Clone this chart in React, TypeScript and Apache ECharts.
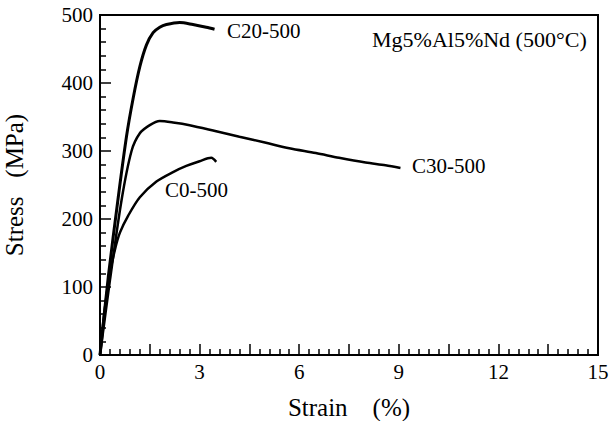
import React, { useEffect, useRef } from "react";
import * as echarts from "echarts";

const c20X = [0, 0.25, 0.55, 0.8, 1.0, 1.2, 1.4, 1.6, 1.8, 2.0, 2.4, 2.8, 3.2, 3.45];
const c20Y = [0, 115, 232, 322, 378, 424, 456, 474, 482, 486, 489, 486, 482, 479];

const c30X = [0, 0.3, 0.65, 0.95, 1.2, 1.5, 1.8, 2.2, 2.7, 3.5, 4.2, 5.0, 5.7, 6.5, 7.2, 8.0, 8.6, 9.05];
const c30Y = [0, 110, 228, 300, 326, 338, 344, 342, 338, 329, 321, 312, 304, 297, 290, 283, 279, 275];

const c0X = [0, 0.15, 0.3, 0.45, 0.6, 0.85, 1.2, 1.7, 2.2, 2.6, 3.0, 3.35, 3.5];
const c0Y = [0, 70, 120, 155, 180, 205, 232, 255, 269, 278, 285, 290, 284];

const xTicks = [0, 3, 6, 9, 12, 15];
const seriesNames = ["C20-500", "C30-500", "C0-500"];
const title = "Mg5%Al5%Nd (500°C)";

const FONT = "Liberation Serif, Times New Roman, serif";

function pairs(xs: number[], ys: number[]) {
  return xs.map((x, i) => [x, ys[i]]);
}

export default function App() {
  const ref = useRef<HTMLDivElement>(null);
  useEffect(() => {
    if (!ref.current) return;
    const chart = echarts.init(ref.current, null, { renderer: "svg" });
    const lineSeries = (name: string, data: number[][], w: number) => ({
      name,
      type: "line",
      data,
      smooth: 0.3,
      showSymbol: false,
      lineStyle: { color: "#000", width: w },
    });
    chart.setOption({
      animation: false,
      backgroundColor: "#fff",
      grid: {
        left: 100,
        right: 12,
        top: 15,
        bottom: 66,
        containLabel: false,
        outerBoundsMode: "none",
        show: true,
        borderColor: "#000",
        borderWidth: 2,
        backgroundColor: "transparent",
      },
      xAxis: {
        type: "value",
        min: 0,
        max: 15,
        interval: 1.5,
        name: "Strain    (%)",
        nameLocation: "middle",
        nameGap: 40,
        nameTextStyle: { fontFamily: FONT, fontSize: 25, color: "#000" },
        axisLine: { lineStyle: { color: "#000", width: 2 } },
        axisTick: { inside: true, length: 11, lineStyle: { color: "#000", width: 1.5 } },
        minorTick: { show: true, splitNumber: 5, length: 6, lineStyle: { color: "#000", width: 1.5 } },
        splitLine: { show: false },
        axisLabel: {
          fontFamily: FONT,
          fontSize: 21,
          color: "#000",
          margin: 6,
          formatter: (v: number) => (xTicks.includes(Math.round(v * 100) / 100) ? String(Math.round(v)) : ""),
        },
      },
      yAxis: {
        type: "value",
        min: 0,
        max: 500,
        interval: 100,
        name: "Stress   (MPa)",
        nameLocation: "middle",
        nameGap: 73,
        nameTextStyle: { fontFamily: FONT, fontSize: 25, color: "#000" },
        axisLine: { show: true, lineStyle: { color: "#000", width: 2 } },
        axisTick: { inside: true, length: 11, lineStyle: { color: "#000", width: 1.5 } },
        minorTick: { show: true, splitNumber: 5, length: 6, lineStyle: { color: "#000", width: 1.5 } },
        splitLine: { show: false },
        axisLabel: { fontFamily: FONT, fontSize: 21, color: "#000", margin: 7 },
      },
      series: [
        lineSeries(seriesNames[0], pairs(c20X, c20Y), 3),
        lineSeries(seriesNames[1], pairs(c30X, c30Y), 2.5),
        lineSeries(seriesNames[2], pairs(c0X, c0Y), 2.5),
      ],
      graphic: [
        { type: "text", left: 227, top: 20, style: { text: seriesNames[0], font: `21px ${FONT}`, fill: "#000" } },
        { type: "text", left: 412, top: 155, style: { text: seriesNames[1], font: `21px ${FONT}`, fill: "#000" } },
        { type: "text", left: 165, top: 179, style: { text: seriesNames[2], font: `21px ${FONT}`, fill: "#000" } },
        { type: "text", left: 372, top: 28, style: { text: title, font: `22px ${FONT}`, fill: "#000" } },
      ],
    });
    return () => chart.dispose();
  }, []);
  return <div ref={ref} style={{ position: "absolute", left: 0, top: 0, width: 610, height: 421 }} />;
}
